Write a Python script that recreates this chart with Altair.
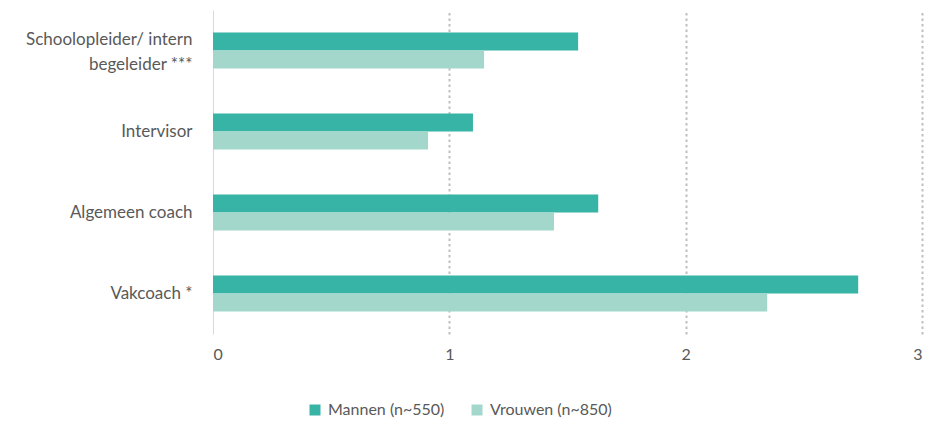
import altair as alt
import pandas as pd

categories = ["Schoolopleider/  intern\nbegeleider ***", "Intervisor", "Algemeen coach", "Vakcoach *"]
series = ["Mannen (n~550)", "Vrouwen (n~850)"]
mannen = [1.545, 1.10, 1.63, 2.73]
vrouwen = [1.147, 0.91, 1.443, 2.345]
colors = ["#37B4A6", "#A3D7CC"]

rows = []
for c, m, v in zip(categories, mannen, vrouwen):
    rows.append({"cat": c, "serie": series[0], "val": m})
    rows.append({"cat": c, "serie": series[1], "val": v})
df = pd.DataFrame(rows)

FONT = "Lato"
TXT = "#595959"

chart = alt.Chart(df).mark_bar().encode(
    y=alt.Y("cat:N", sort=categories, title=None,
            scale=alt.Scale(paddingInner=0.556, paddingOuter=0.278),
            axis=alt.Axis(labelExpr="split(datum.label, '\\n')", labelFont=FONT, labelFontSize=17,
                          labelColor=TXT, ticks=False, domainColor="#D9D9D9", domainWidth=1,
                          labelPadding=21, labelAlign="right", labelLineHeight=25,
                          labelOffset={"condition": {"test": "indexof(datum.value, '\\n') >= 0", "value": -11},
                                       "value": 0})),
    yOffset=alt.YOffset("serie:N", sort=series),
    x=alt.X("val:Q", title=None, scale=alt.Scale(domain=[0, 3], nice=False),
            axis=alt.Axis(values=[0, 1, 2, 3], format="d", labelFont=FONT, labelFontSize=16,
                          labelColor=TXT, ticks=False, domain=False, labelPadding=12,
                          gridColor="#BFBFBF", gridWidth=2, gridDash=[2.5, 3],
                          gridOpacity={"condition": {"test": "datum.value === 0", "value": 0}, "value": 1})),
    color=alt.Color("serie:N", sort=series, scale=alt.Scale(domain=series, range=colors),
                    legend=alt.Legend(title=None, orient="none", direction="horizontal",
                                      legendX=94, legendY=392, symbolType="square", symbolSize=121,
                                      symbolStrokeWidth=0, labelFont=FONT, labelFontSize=16,
                                      labelColor=TXT, columnPadding=24, labelOffset=5)),
).properties(
    width=709, height=324,
    autosize=alt.AutoSizeParams(type="none"),
    padding={"left": 205, "top": 2, "right": 9, "bottom": 87},
).configure_view(stroke=None)

chart.save("out.html", embed_options={"renderer": "svg", "actions": False})
